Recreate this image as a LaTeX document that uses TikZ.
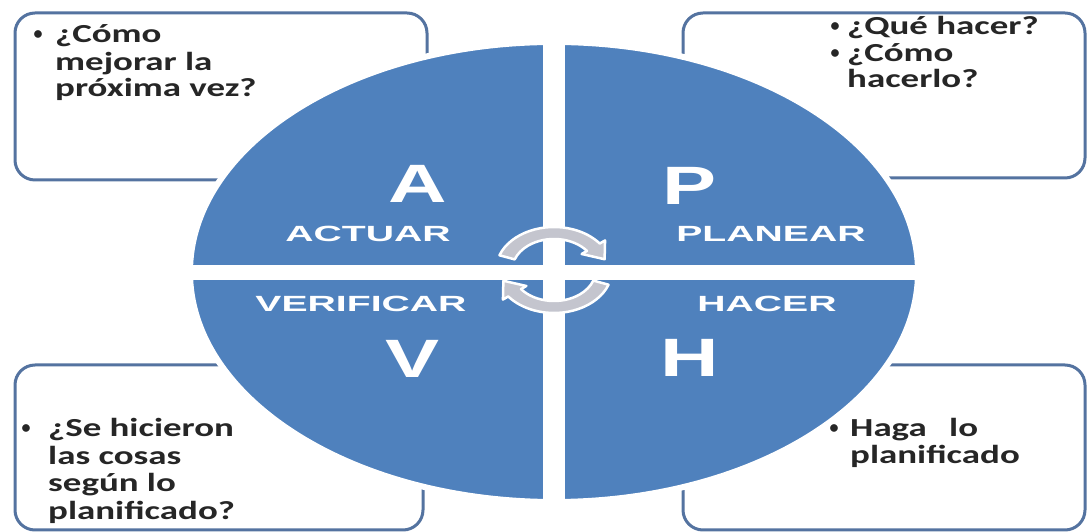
\documentclass[tikz,border=0pt]{standalone}
\usepackage{fontspec}
\setmainfont{Carlito}
\newfontfamily\boxfont{Carlito}[FakeStretch=1.42]
\newfontfamily\lblfont{Liberation Sans}[FakeStretch=1.78]
\newfontfamily\bigfont{Liberation Sans}[FakeStretch=1.5]
\definecolor{pdcablue}{RGB}{79,129,189}
\definecolor{boxline}{RGB}{84,115,160}
\definecolor{arrowgrey}{RGB}{196,197,206}
\tikzset{
  box/.style={draw=boxline, line width=3pt, rounded corners=20pt, fill=white},
  txt/.style={anchor=base west, inner sep=0pt, font=\boxfont\bfseries\fontsize{26}{27}\selectfont, text=black!85},
  bul/.style={anchor=base, inner sep=0pt, font=\rmfamily\bfseries\fontsize{18}{20}\selectfont, text=black!85},
  lbl/.style={anchor=base, inner sep=0pt, font=\lblfont\bfseries\fontsize{22}{24}\selectfont, text=white},
  big/.style={anchor=base, inner sep=0pt, font=\bigfont\bfseries\fontsize{54}{60}\selectfont, text=white},
  cyc/.style={fill=arrowgrey, draw=white, line width=2.5pt, line join=round}
}
\begin{document}
\begin{tikzpicture}[x=1pt,y=1pt]
\useasboundingbox (0,0) rectangle (1088,532);
% boxes
\draw[box] (15,352) rectangle (427,519);
\draw[box] (683,354) rectangle (1085,519);
\draw[box] (15,2) rectangle (423,167);
\draw[box] (683,2) rectangle (1085,167);
% disc
\fill[pdcablue, draw=white, line width=6pt] (554,260) ellipse [x radius=364, y radius=230];
\fill[white] (543,25) rectangle (565,495);
\fill[white] (185,252) rectangle (923,267);
% big letters
\node[big] (A) at (418,329) {A};
\node[big] (P) at (690,327) {P};
\node[big] (V) at (413,154) {V};
\node[big] (H) at (690,155) {H};
% labels
\node[lbl] (actuar) at (368,290) {ACTUAR};
\node[lbl] (planear) at (771,290) {PLANEAR};
\node[lbl] (verificar) at (361,220) {VERIFICAR};
\node[lbl] (hacer) at (767,220) {HACER};
% cycle arrows
\draw[cyc, shift={(554,262)}, xscale=1.35]
  (160:43) arc[start angle=160, end angle=38, radius=43]
  -- (38:48) -- (16:39) -- (38:26) -- (38:31)
  arc[start angle=38, end angle=160, radius=31] -- cycle;
\draw[cyc, shift={(554,262)}, rotate=180, xscale=1.35]
  (160:43) arc[start angle=160, end angle=38, radius=43]
  -- (38:48) -- (16:39) -- (38:26) -- (38:31)
  arc[start angle=38, end angle=160, radius=31] -- cycle;
% top-left text
\node[bul] (bA) at (38,492) {•};
\node[txt] (tA1) at (55,489) {¿Cómo};
\node[txt] (tA2) at (55,461) {mejorar la};
\node[txt] (tA3) at (55,435) {próxima vez?};
% top-right text
\node[bul] (bP1) at (835,500) {•};
\node[txt] (tP1) at (847,497) {¿Qué hacer?};
\node[bul] (bP2) at (835,473) {•};
\node[txt] (tP2) at (847,470) {¿Cómo};
\node[txt] (tP3) at (847,444) {hacerlo?};
% bottom-left text
\node[bul] (bV) at (26,98) {•};
\node[txt] (tV1) at (48,95) {¿Se hicieron};
\node[txt] (tV2) at (48,67) {las cosas};
\node[txt] (tV3) at (48,40) {según lo};
\node[txt] (tV4) at (48,12) {planificado?};
% bottom-right text
\node[bul] (bH) at (834,98) {•};
\node[txt] (tH1) at (850,95) {Haga\hspace{14pt} lo};
\node[txt] (tH2) at (850,68) {planificado};
\end{tikzpicture}
\end{document}
